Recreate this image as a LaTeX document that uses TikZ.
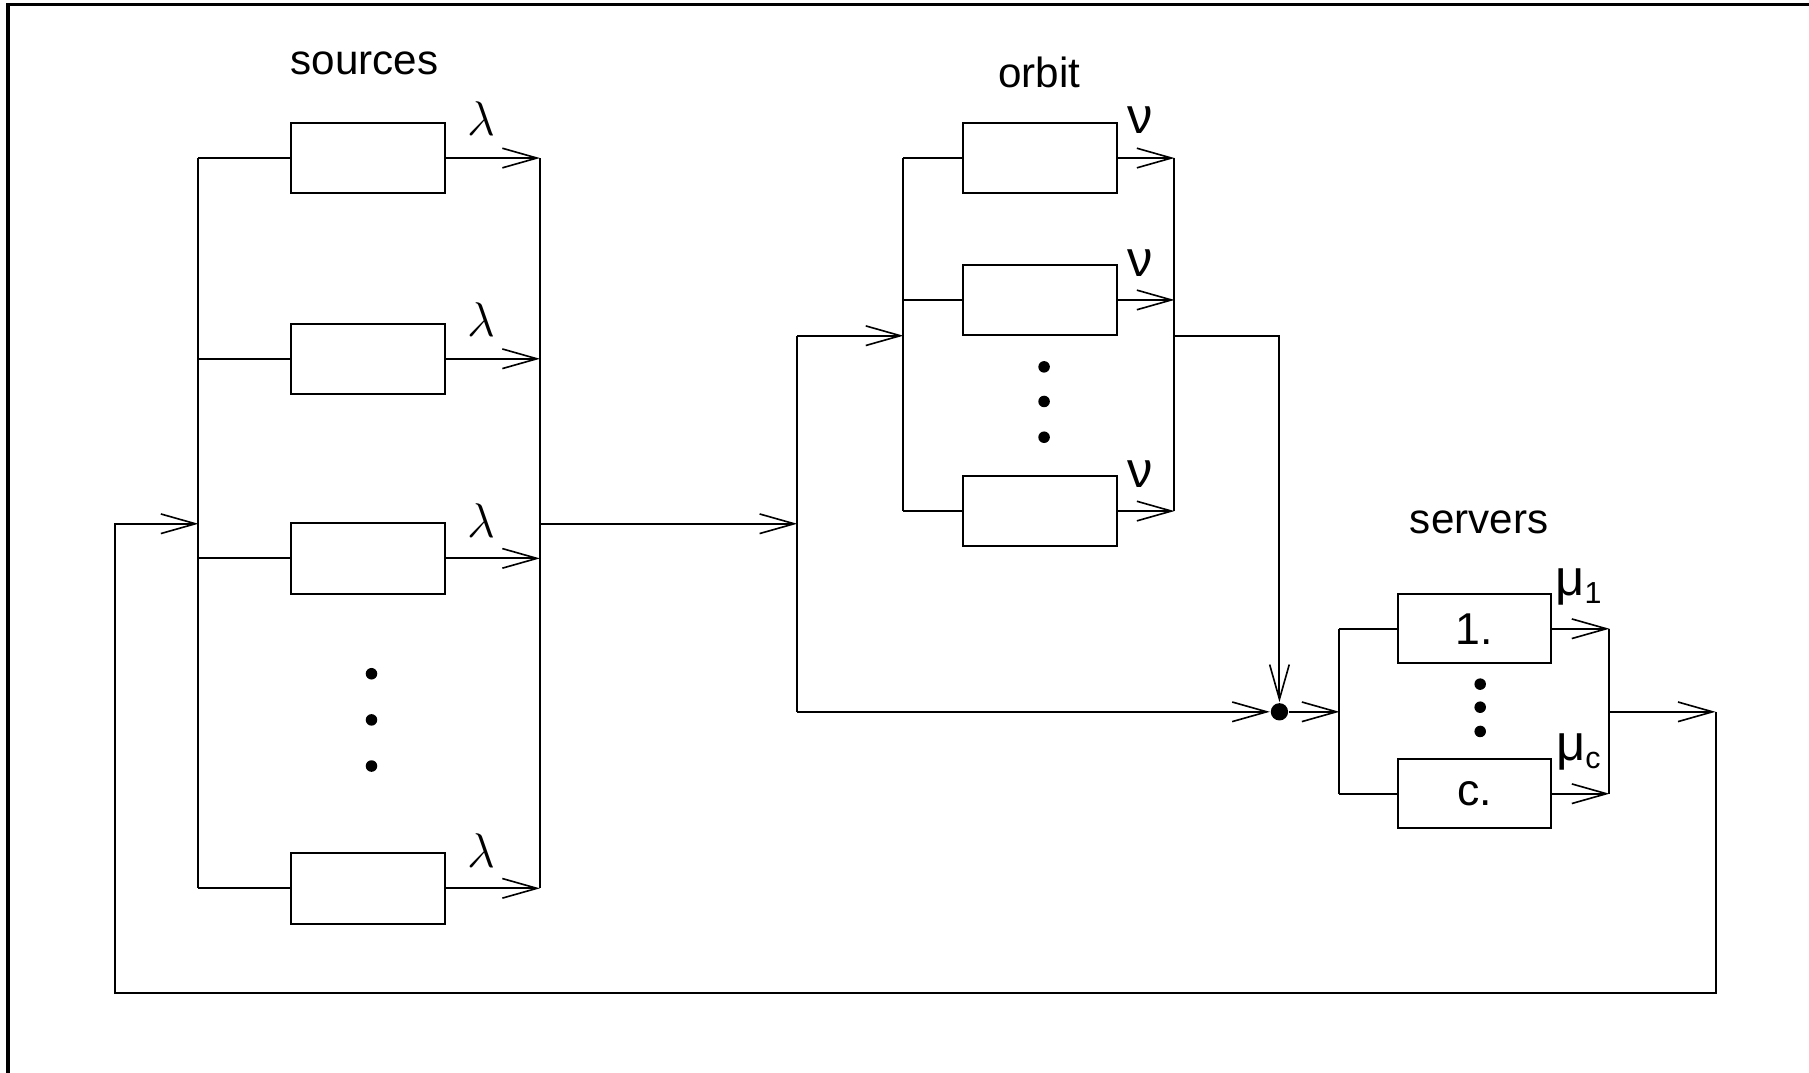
\documentclass[tikz,border=0pt]{standalone}
\usepackage{fontspec}
\setmainfont{Liberation Sans}
\usetikzlibrary{arrows.meta}
\begin{document}
\begin{tikzpicture}[x=0.1mm,y=-0.1mm,
  line width=0.5pt,
  box/.style={draw,minimum width=13.3mm,minimum height=6.1mm,inner sep=0pt,font=\fontsize{11}{13}\selectfont},
  arr/.style={-{Straight Barb[length=3mm,width=1.7mm,line width=0.4pt]}},
  title/.style={font=\fontsize{10.4}{12}\selectfont},
  rate/.style={font=\fontsize{12.5}{14}\selectfont},
  smalldot/.style={fill,circle,inner sep=0pt,minimum size=1mm},
]
\useasboundingbox (0,0) rectangle (1568,930);
\draw[line width=0.8pt] (7,930) -- (7,4) -- (1568,4);

% ---------- sources ----------
\node[title] (tsrc) at (316,55) {sources};
\node[box] (s1) at (319,137) {};
\node[box] (s2) at (319,311) {};
\node[box] (s3) at (319,484) {};
\node[box] (s4) at (319,770) {};
\coordinate (sLt) at (172,137);
\coordinate (sLb) at (172,770);
\coordinate (sRt) at (468,137);
\coordinate (sRb) at (468,770);
\coordinate (sIn) at (172,454);
\coordinate (sOut) at (468,454);
\draw (sLt) -- (sLb);
\draw (sRt) -- (sRb);
\foreach \b in {s1,s2,s3,s4}{
  \draw (\b.west) -- (\b.west -| sLt);
  \draw[arr] (\b.east) -- (\b.east -| sRt);
}
\node[rate] (l1) at (417,103) {$\lambda$};
\node[rate] (l2) at (417,277) {$\lambda$};
\node[rate] (l3) at (417,451) {$\lambda$};
\node[rate] (l4) at (417,737) {$\lambda$};
\node[smalldot] (sd1) at (322,584) {};
\node[smalldot] (sd2) at (322,624) {};
\node[smalldot] (sd3) at (322,664) {};

% ---------- orbit ----------
\node[title] (torb) at (901,63) {orbit};
\node[box] (o1) at (901.5,137) {};
\node[box] (o2) at (901.5,260) {};
\node[box] (o3) at (901.5,443) {};
\coordinate (oLt) at (783,137);
\coordinate (oLb) at (783,443);
\coordinate (oRt) at (1018,137);
\coordinate (oRb) at (1018,443);
\coordinate (oIn) at (783,291);
\coordinate (oOut) at (1018,291);
\draw (oLt) -- (oLb);
\draw (oRt) -- (oRb);
\foreach \b in {o1,o2,o3}{
  \draw (\b.west) -- (\b.west -| oLt);
  \draw[arr] (\b.east) -- (\b.east -| oRt);
}
\node[rate] (n1) at (988,104) {ν};
\node[rate] (n2) at (988,228) {ν};
\node[rate] (n3) at (988,411) {ν};
\node[smalldot] (od1) at (905,318) {};
\node[smalldot] (od2) at (905,348) {};
\node[smalldot] (od3) at (905,379) {};

% ---------- split to orbit / servers ----------
\coordinate (jMid) at (691,454);
\coordinate (jTop) at (691,291);
\coordinate (jBot) at (691,617);
\node[fill,circle,inner sep=0pt,minimum size=1.5mm] (dot) at (1109,617) {};
\coordinate (dTop) at (1109,291);
\draw[arr] (sOut) -- (jMid);
\draw (jTop) -- (jBot);
\draw[arr] (jTop) -- (oIn);
\draw[arr] (jBot) -- (dot.west);
\draw[arr] (oOut) -- (dTop) -- (dot.north);

% ---------- servers ----------
\node[title] (tsrv) at (1282,453) {servers};
\node[box,minimum width=13.2mm,minimum height=6.0mm] (v1) at (1278,545) {1.};
\node[box,minimum width=13.2mm,minimum height=6.0mm] (v2) at (1278,688) {c.};
\coordinate (vLt) at (1161,545);
\coordinate (vLb) at (1161,688);
\coordinate (vRt) at (1395,545);
\coordinate (vRb) at (1395,688);
\coordinate (vIn) at (1161,617);
\coordinate (vOut) at (1395,617);
\draw (vLt) -- (vLb);
\draw (vRt) -- (vRb);
\foreach \b in {v1,v2}{
  \draw (\b.west) -- (\b.west -| vLt);
  \draw[arr] (\b.east) -- (\b.east -| vRt);
}
\node[rate] (m1) at (1369,509) {μ\textsubscript{\fontsize{7.5}{9}\selectfont 1}};
\node[rate] (m2) at (1369,652) {μ\textsubscript{\fontsize{7.5}{9}\selectfont c}};
\node[smalldot] (vd1) at (1283,593) {};
\node[smalldot] (vd2) at (1283,613) {};
\node[smalldot] (vd3) at (1283,634) {};
\draw[arr] (dot.east) -- (vIn);

% ---------- feedback loop ----------
\coordinate (fR) at (1487,617);
\coordinate (fRB) at (1487,861);
\coordinate (fLB) at (100,861);
\coordinate (fL) at (100,454);
\draw[arr] (vOut) -- (fR);
\draw[arr] (fR) -- (fRB) -- (fLB) -- (fL) -- (sIn);
\end{tikzpicture}
\end{document}
